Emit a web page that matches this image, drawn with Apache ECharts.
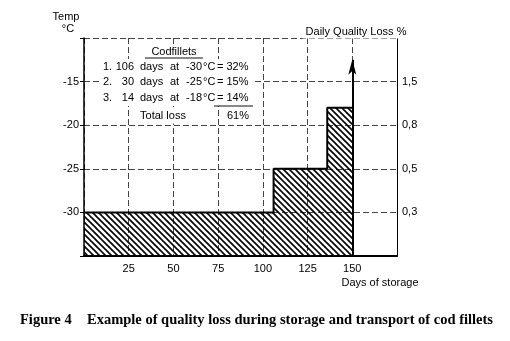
<!DOCTYPE html>
<html>
<head>
<meta charset="utf-8">
<script src="https://cdn.jsdelivr.net/npm/echarts@6/dist/echarts.min.js"></script>
<style>html,body{margin:0;padding:0;background:#fff}#c{width:510px;height:341px}</style>
</head>
<body>
<div id="c"></div>
<script>
// ---- data ----
const stageDays = [106, 30, 14];          // days at each stage
const stageTemps = [-30, -25, -18];       // storage temperature, deg C
const stageLoss = [32, 15, 14];           // quality loss per stage, %
const totalLoss = 61;
const dayTicks = [25, 50, 75, 100, 125, 150];
const tempTicks = [-30, -25, -20, -15];
const lossTickLabels = ['0,3', '0,5', '0,8', '1,5']; // daily quality loss at tempTicks
const arrowTopTemp = -12.5;

// cumulative step profile built from the stage arrays
const stepData = [];
let acc = 0;
stageDays.forEach((d, i) => { stepData.push([acc, stageTemps[i]]); acc += d; });
stepData.push([acc, stageTemps[stageTemps.length - 1]]);
const endDay = acc;

// hatch pattern
const pc = document.createElement('canvas');
pc.width = 12; pc.height = 12;
const g = pc.getContext('2d');
g.strokeStyle = '#000'; g.lineWidth = 1.6;
[-12, -6, 0, 6, 12].forEach(k => { g.beginPath(); g.moveTo(-1, k - 1); g.lineTo(13, 13 + k); g.stroke(); });

const FONT = 'Liberation Sans';
const txt = '#000';
const gridLine = {show: true, lineStyle: {color: '#444', width: 1, type: [6, 3]}};
const chart = echarts.init(document.getElementById('c'), null, {renderer: 'canvas'});

const rowsY = [67, 82, 98];
const tableEls = [];
// white mask over grid lines behind the table
tableEls.push({type: 'rect', shape: {x: 100, y: 59, width: 153, height: 47}, style: {fill: '#fff'}, z: 100});
tableEls.push({type: 'text', x: 174, y: 52, style: {text: 'Codfillets', font: '11px ' + FONT, fill: txt, align: 'center', verticalAlign: 'middle', backgroundColor: '#fff', padding: [2, 3]}, z: 101});
tableEls.push({type: 'line', shape: {x1: 145, y1: 58, x2: 203, y2: 58}, style: {stroke: '#111', lineWidth: 1}, z: 102});
stageDays.forEach((d, i) => {
  const y = rowsY[i];
  const s = (t, x, al) => tableEls.push({type: 'text', x: x, y: y, style: {text: t, font: '11px ' + FONT, fill: txt, align: al || 'left', verticalAlign: 'middle'}, z: 101});
  s((i + 1) + '.', 103);
  s(String(d), 134, 'right');
  s('days', 140);
  s('at', 170);
  s(String(stageTemps[i]), 202, 'right');
  s('°C', 203);
  s('= ' + stageLoss[i] + '%', 217);
});
tableEls.push({type: 'line', shape: {x1: 214, y1: 106, x2: 253, y2: 106}, style: {stroke: '#111', lineWidth: 1}, z: 102});
tableEls.push({type: 'text', x: 163, y: 116, style: {text: 'Total loss', font: '11px ' + FONT, fill: txt, align: 'center', verticalAlign: 'middle', backgroundColor: '#fff', padding: [2, 3]}, z: 101});
tableEls.push({type: 'text', x: 238, y: 116, style: {text: totalLoss + '%', font: '11px ' + FONT, fill: txt, align: 'center', verticalAlign: 'middle', backgroundColor: '#fff', padding: [2, 3]}, z: 101});

const option = {
  animation: false,
  backgroundColor: '#fff',
  grid: {left: 84, right: 113, top: 38, bottom: 85, containLabel: false},
  xAxis: {
    type: 'value', min: 0, max: 175, interval: 25,
    axisLine: {lineStyle: {color: '#000', width: 2}},
    axisTick: {show: false},
    axisLabel: {margin: 7, color: txt, fontFamily: FONT, fontSize: 11,
      formatter: v => dayTicks.indexOf(v) >= 0 ? String(v) : ''},
    splitLine: gridLine
  },
  yAxis: [
    {
      type: 'value', min: -35, max: -10, interval: 5, position: 'left',
      axisLine: {show: true, lineStyle: {color: '#000', width: 1.5}},
      axisTick: {show: true, length: 4, lineStyle: {color: '#000'}},
      axisLabel: {margin: 5, color: txt, fontFamily: FONT, fontSize: 11,
        formatter: v => tempTicks.indexOf(v) >= 0 ? String(v) : ''},
      splitLine: gridLine
    },
    {
      type: 'value', min: -35, max: -10, interval: 5, position: 'right',
      axisLine: {show: true, lineStyle: {color: '#000', width: 1}},
      axisTick: {show: false},
      axisLabel: {margin: 5, color: txt, fontFamily: FONT, fontSize: 11,
        formatter: v => { const i = tempTicks.indexOf(v); return i >= 0 ? lossTickLabels[i] : ''; }},
      splitLine: {show: false}
    }
  ],
  series: [{
    type: 'line', step: 'end', data: stepData, showSymbol: false, symbol: 'none',
    lineStyle: {color: '#000', width: 2},
    areaStyle: {origin: 'start', color: {image: pc, repeat: 'repeat'}, opacity: 1},
    markLine: {
      silent: true, animation: false,
      symbol: ['none', 'arrow'], symbolSize: [6, 15],
      label: {show: false},
      lineStyle: {color: '#000', width: 2, type: 'solid'},
      data: [[{coord: [endDay, -35]}, {coord: [endDay, arrowTopTemp]}]]
    }
  }],
  graphic: [
    {type: 'text', x: 66, y: 17, style: {text: 'Temp', font: '11px ' + FONT, fill: txt, align: 'center', verticalAlign: 'middle'}},
    {type: 'text', x: 68, y: 29, style: {text: '°C', font: '11px ' + FONT, fill: txt, align: 'center', verticalAlign: 'middle'}},
    {type: 'text', x: 356, y: 32, style: {text: 'Daily Quality Loss %', font: '11px ' + FONT, fill: txt, align: 'center', verticalAlign: 'middle', backgroundColor: '#fff', padding: [1, 3]}, z: 101},
    {type: 'text', x: 380, y: 283, style: {text: 'Days of storage', font: '11px ' + FONT, fill: txt, align: 'center', verticalAlign: 'middle'}},
    {type: 'text', x: 20, y: 320, style: {text: 'Figure 4', font: 'bold 14.5px "Liberation Serif"', fill: '#000', align: 'left', verticalAlign: 'middle'}},
    {type: 'text', x: 493, y: 320, style: {text: 'Example of quality loss during storage and transport of cod fillets', font: 'bold 14.5px "Liberation Serif"', fill: '#000', align: 'right', verticalAlign: 'middle'}}
  ].concat(tableEls)
};
chart.setOption(option);
</script>
</body>
</html>
